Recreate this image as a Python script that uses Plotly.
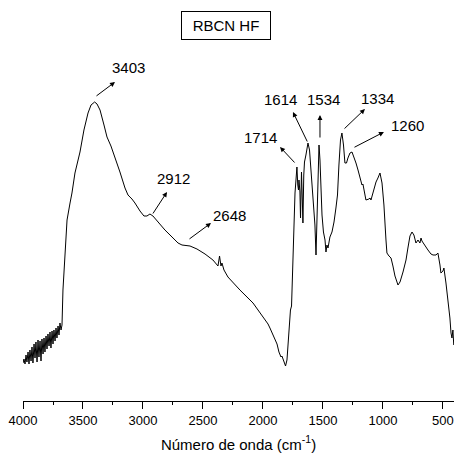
import plotly.graph_objects as go

# Wavenumber (cm-1) and relative transmittance (arbitrary units)
wavenumber = [
    4000, 3992, 3983, 3975, 3967, 3958, 3950, 3942, 3933, 3925, 3917, 3908, 3900, 3892,
    3883, 3875, 3867, 3858, 3850, 3842, 3833, 3825, 3817, 3808, 3800, 3792, 3783, 3775,
    3767, 3758, 3750, 3742, 3733, 3725, 3717, 3708, 3700, 3692, 3683, 3675,
    3667, 3650, 3633, 3608, 3592, 3567, 3550, 3525, 3492, 3458, 3433, 3403, 3383, 3358,
    3325, 3300, 3267, 3233, 3192, 3150, 3125, 3092, 3067, 3025, 2992, 2967, 2942, 2917,
    2875, 2817, 2758, 2708, 2675, 2608, 2550, 2483, 2417, 2383, 2375, 2362, 2350, 2342,
    2325, 2292, 2192, 2083, 2000, 1958, 1942, 1917, 1900, 1883, 1867, 1850, 1842, 1825,
    1812, 1800, 1783, 1771, 1762, 1750, 1733, 1725, 1717, 1710, 1704, 1700, 1692, 1687,
    1679, 1672, 1667, 1660, 1654, 1642, 1625, 1612, 1600, 1587, 1575, 1567, 1558, 1550,
    1542, 1533, 1525, 1517, 1508, 1496, 1483, 1475, 1467, 1458, 1442, 1425, 1408, 1392,
    1379, 1367, 1354, 1342, 1329, 1317, 1304, 1292, 1275, 1258, 1242, 1225, 1208, 1192,
    1175, 1167, 1150, 1142, 1117, 1108, 1100, 1083, 1058, 1042, 1025, 1008, 992, 975,
    967, 950, 933, 917, 900, 875, 858, 833, 808, 792, 775, 758, 742, 725, 708, 692, 683,
    675, 650, 625, 600, 583, 558, 542, 525, 517, 500, 492, 475, 458, 442, 433, 425, 417, 410,
]
transmittance = [
    38, 42, 37, 46, 39, 49, 37, 51, 40, 54, 38, 57, 43, 59,
    39, 61, 44, 60, 40, 62, 47, 63, 49, 65, 52, 67, 55, 69,
    53, 70, 57, 71, 60, 73, 63, 75, 66, 78, 71, 76,
    111, 149, 181, 198, 208, 228, 236, 249, 271, 288, 296, 299, 297, 291,
    276, 264, 255, 244, 229, 213, 206, 202, 198, 190, 185, 185, 187, 185,
    179, 171, 164, 158, 156, 155, 152, 147, 141, 136, 135, 145, 135, 138,
    131, 124, 111, 98, 84, 77, 73, 66, 61, 57, 49, 44, 45, 38,
    35, 41, 66, 91, 95, 148, 208, 221, 234, 216, 211, 221, 209, 183,
    229, 201, 178, 226, 239, 246, 258, 251, 231, 216, 196, 176, 146, 191,
    231, 256, 241, 206, 186, 169, 161, 149, 156, 153, 164, 169, 179, 193,
    206, 236, 261, 268, 256, 238, 238, 243, 248, 249, 244, 238, 231, 224,
    216, 217, 206, 201, 202, 203, 201, 209, 219, 223, 228, 218, 196, 161,
    148, 145, 143, 135, 125, 116, 119, 129, 141, 153, 165, 169, 166, 158,
    161, 158, 163, 160, 155, 151, 147, 146, 146, 148, 136, 128, 130, 133,
    118, 101, 83, 68, 63, 71, 56,
]

peak_labels = ["3403", "2912", "2648", "1714", "1614", "1534", "1334", "1260"]
# arrow tail (on curve), arrow head, and label centre, in data units
arrow_tail_x = [3400, 2925, 2625, 1725, 1625, 1525, 1333, 1250]
arrow_tail_y = [304, 186, 161, 237, 258, 262, 271, 253]
arrow_head_x = [3233, 2800, 2433, 1858, 1750, 1525, 1150, 992]
arrow_head_y = [319, 209, 178, 254, 289, 286, 292, 269]
label_x = [3117, 2742, 2283, 2017, 1850, 1492, 1042, 792]
label_y = [334, 223, 186, 264, 302, 302, 303, 276]

tick_vals = [4000, 3500, 3000, 2500, 2000, 1500, 1000, 500]
tick_text = ["4000", "3500", "3000", "2500", "2000", "1500", "1000", "500"]

FONT = "Arial, Liberation Sans, sans-serif"

fig = go.Figure()
fig.add_trace(go.Scatter(
    x=wavenumber, y=transmittance, mode="lines",
    line=dict(color="black", width=1), showlegend=False, hoverinfo="skip",
))

annotations = []
for i, lab in enumerate(peak_labels):
    annotations.append(dict(
        x=arrow_head_x[i], y=arrow_head_y[i], xref="x", yref="y",
        ax=arrow_tail_x[i], ay=arrow_tail_y[i], axref="x", ayref="y",
        text="", showarrow=True, arrowhead=2, arrowsize=1.0, arrowwidth=1,
        arrowcolor="black",
    ))
    annotations.append(dict(
        x=label_x[i], y=label_y[i], xref="x", yref="y", text=lab,
        showarrow=False, font=dict(family=FONT, size=15, color="black"),
        xanchor="center", yanchor="middle",
    ))

annotations.append(dict(
    x=2308, y=375.5, xref="x", yref="y", text="RBCN HF", showarrow=False,
    font=dict(family=FONT, size=15, color="black"),
    bordercolor="black", borderwidth=1, borderpad=1, width=86, height=25,
    bgcolor="white", xanchor="center", yanchor="middle",
))

fig.update_layout(
    width=454, height=459,
    margin=dict(l=23, r=0, t=20, b=58),
    paper_bgcolor="white", plot_bgcolor="white",
    font=dict(family=FONT, color="black"),
    annotations=annotations,
    xaxis=dict(
        range=[4000, 408], tickvals=tick_vals, ticktext=tick_text,
        ticks="outside", ticklen=7, tickwidth=1, tickcolor="black",
        showline=True, linecolor="black", linewidth=1, showgrid=False, zeroline=False,
        tickfont=dict(family=FONT, size=13, color="black"),
        minor=dict(dtick=250, tick0=0, ticks="outside", ticklen=3, tickwidth=1, tickcolor="black", showgrid=False),
        title=dict(text="Número de onda (cm<sup>-1</sup>)", font=dict(family=FONT, size=15, color="black"), standoff=12),
    ),
    yaxis=dict(range=[0, 381], visible=False, showgrid=False, zeroline=False),
)

fig.write_html("out.html")
